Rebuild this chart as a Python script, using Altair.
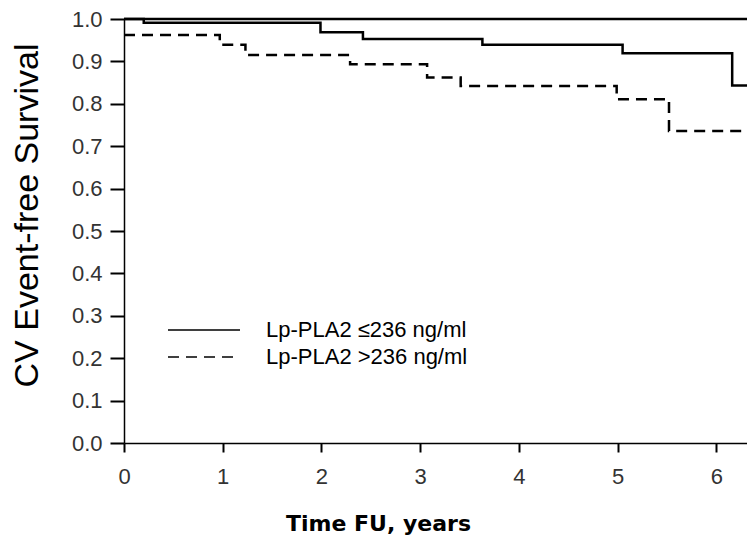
import altair as alt
import pandas as pd

labels = ["Lp-PLA2 \u2264236 ng/ml", "Lp-PLA2 >236 ng/ml"]

solid_t = [0, 0.20, 1.99, 2.42, 3.63, 5.05, 6.16, 6.31]
solid_s = [1.0, 0.991, 0.969, 0.953, 0.939, 0.919, 0.843, 0.843]

dash_t = [0, 0.97, 1.23, 2.29, 3.07, 3.41, 4.99, 5.52, 6.31]
dash_s = [0.962, 0.939, 0.915, 0.893, 0.862, 0.842, 0.811, 0.736, 0.736]

x_ticks = [0, 0.5, 1, 1.5, 2, 2.5, 3, 3.5, 4, 4.5, 5, 5.5, 6]
y_ticks = [0.0, 0.1, 0.2, 0.3, 0.4, 0.5, 0.6, 0.7, 0.8, 0.9, 1.0]

rows = []
for t, s in zip(solid_t, solid_s):
    rows.append({"t": t, "s": s, "g": labels[0]})
for t, s in zip(dash_t, dash_s):
    rows.append({"t": t, "s": s, "g": labels[1]})
df = pd.DataFrame(rows)

x_enc = alt.X(
    "t:Q",
    scale=alt.Scale(domain=[0, 6.31], nice=False, zero=False),
    axis=alt.Axis(
        values=x_ticks,
        format="d",
        labelExpr="datum.value % 1 === 0 ? datum.label : ''",
        labelFlush=False,
        tickSize={"condition": {"test": "datum.value % 1 !== 0", "value": 4}, "value": 9},
        tickWidth={"condition": {"test": "datum.value % 1 !== 0", "value": 1}, "value": 2},
        labelPadding=14,
        labelFontSize=22,
        title="Time FU, years",
        titleFont="DejaVu Sans",
        titleFontWeight="bold",
        titleFontSize=22,
        titleX=254,
        titleY=87,
        titleAlign="center",
        titleBaseline="alphabetic",
    ),
)

y_enc = alt.Y(
    "s:Q",
    scale=alt.Scale(domain=[0, 1], nice=False),
    axis=alt.Axis(
        values=y_ticks,
        format=".1f",
        tickSize=14,
        tickWidth=2,
        labelPadding=8,
        labelFontSize=22,
        title="CV Event-free Survival",
        titleFont="Liberation Sans",
        titleFontWeight="normal",
        titleFontSize=34,
        titleX=-97,
        titleY=196,
        titleAlign="center",
        titleBaseline="middle",
    ),
)

lines = alt.Chart(df).mark_line(interpolate="step-after", strokeWidth=2.5, color="black").encode(
    x=x_enc,
    y=y_enc,
    strokeDash=alt.StrokeDash(
        "g:N",
        scale=alt.Scale(domain=labels, range=[[1, 0], [11, 7]]),
        legend=alt.Legend(
            title=None,
            orient="none",
            legendX=69,
            legendY=300,
            symbolType="M-4,0H4",
            symbolSize=324,
            symbolStrokeWidth=1.3,
            symbolStrokeColor="black",
            labelFontSize=22,
            labelFont="Liberation Sans",
            labelColor="black",
            labelOffset=51,
            labelLimit=400,
            rowPadding=5,
            padding=0,
        ),
    ),
)

top = alt.Chart(pd.DataFrame({"y": [1.0]})).mark_rule(strokeWidth=2.5, color="black").encode(
    y=alt.Y("y:Q")
)

chart = (
    alt.layer(lines, top)
    .properties(
        width=623,
        height=424,
        autosize=alt.AutoSizeParams(type="none"),
        padding={"left": 116, "top": 11, "right": 0, "bottom": 93},
        background="white",
    )
    .configure_view(strokeWidth=0)
    .configure_axis(
        grid=False,
        domainColor="black",
        domainWidth=1.5,
        tickColor="black",
        labelColor="#333333",
        labelFont="Liberation Sans",
        titleColor="black",
    )
)

chart.save("out.html", embed_options={"renderer": "svg", "actions": False})
